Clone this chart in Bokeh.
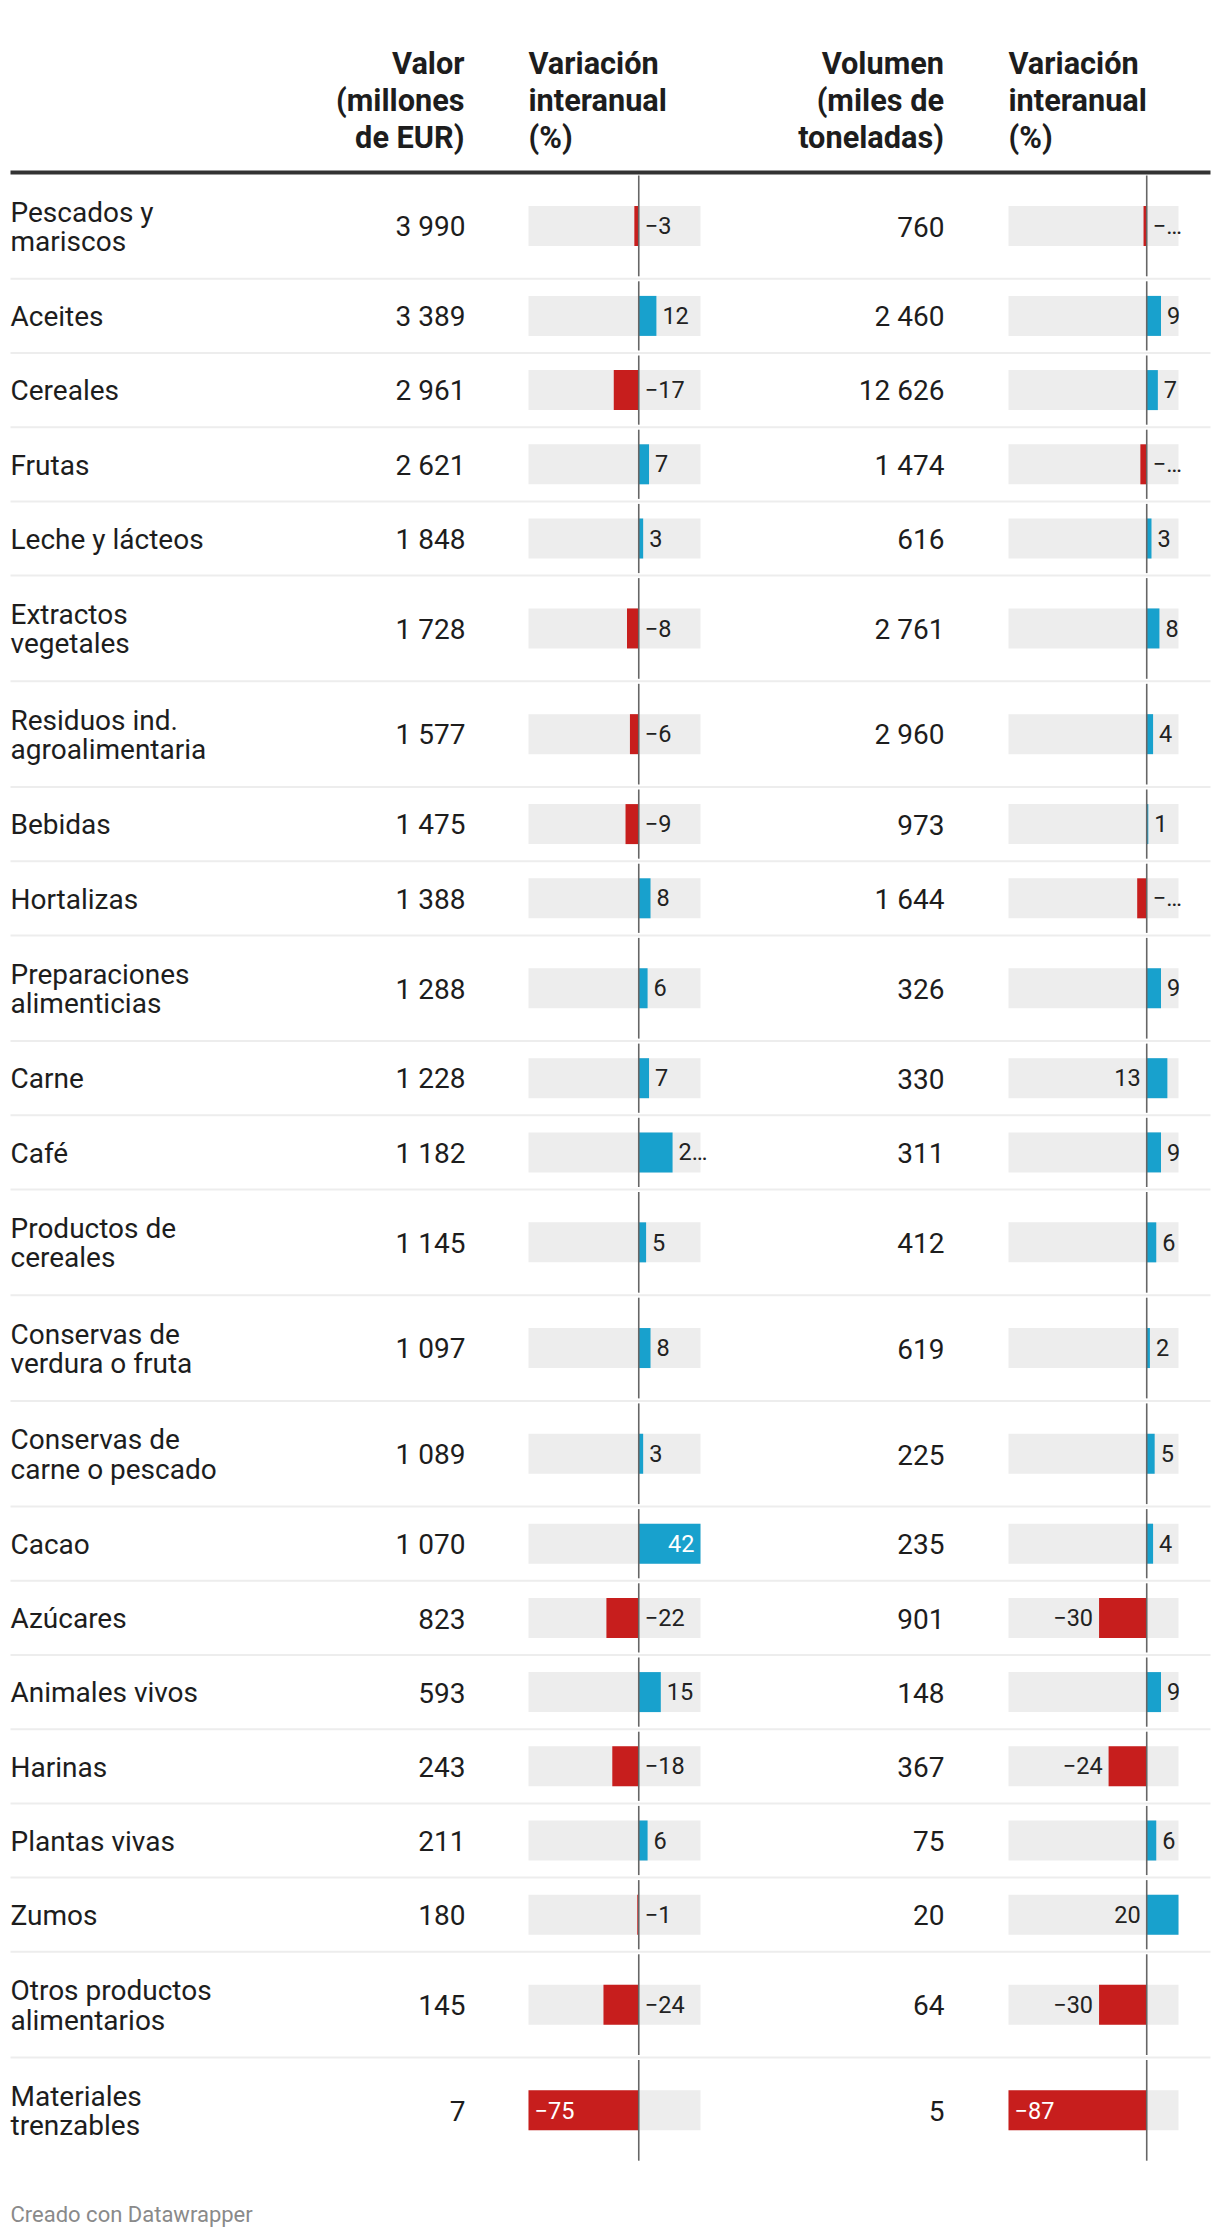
from bokeh.plotting import figure
from bokeh.models import Range1d
from bokeh.embed import file_html
from bokeh.resources import INLINE
from bokeh.core.properties import value

# ---------------- data ----------------
categorias = ["Pescados y\nmariscos", "Aceites", "Cereales", "Frutas", "Leche y lácteos",
              "Extractos\nvegetales", "Residuos ind.\nagroalimentaria", "Bebidas", "Hortalizas",
              "Preparaciones\nalimenticias", "Carne", "Café", "Productos de\ncereales",
              "Conservas de\nverdura o fruta", "Conservas de\ncarne o pescado", "Cacao", "Azúcares",
              "Animales vivos", "Harinas", "Plantas vivas", "Zumos", "Otros productos\nalimentarios",
              "Materiales\ntrenzables"]
valor = [3990, 3389, 2961, 2621, 1848, 1728, 1577, 1475, 1388, 1288, 1228, 1182, 1145, 1097,
         1089, 1070, 823, 593, 243, 211, 180, 145, 7]
var_valor = [-3, 12, -17, 7, 3, -8, -6, -9, 8, 6, 7, 23, 5, 8, 3, 42, -22, 15, -18, 6, -1, -24, -75]
volumen = [760, 2460, 12626, 1474, 616, 2761, 2960, 973, 1644, 326, 330, 311, 412, 619, 225, 235,
           901, 148, 367, 75, 20, 64, 5]
var_volumen = [-2, 9, 7, -4, 3, 8, 4, 1, -6, 9, 13, 9, 6, 2, 5, 4, -30, 9, -24, 6, 20, -30, -87]
encabezados = [["Valor", "(millones", "de EUR)"],
               ["Variación", "interanual", "(%)"],
               ["Volumen", "(miles de", "toneladas)"],
               ["Variación", "interanual", "(%)"]]
pie = "Creado con Datawrapper"

# ---------------- layout / style ----------------
W, H = 1220, 2238
FONT = "Roboto"
RED, BLUE, BG = "#c71e1d", "#18a1cd", "#ededed"
TXT = "#1d1d1d"
BODY_FS, HEAD_FS, LAB_FS, FOOT_FS = 28, 30.7, 23.5, 22
SHIFT = 0.4  # renderer baseline correction (fraction of font size)

p = figure(width=W, height=H, x_range=Range1d(0, W), y_range=Range1d(H, 0),
           x_axis_type=None, y_axis_type=None, output_backend="svg",
           toolbar_location=None, min_border=0)
p.outline_line_color = None
p.grid.visible = False
p.background_fill_color = "white"
p.border_fill_color = "white"

TABLE_L, TABLE_R = 10, 1210


def ty(baseline, fs):
    return baseline - SHIFT * fs


# header
head_x = [(464, "right"), (528, "left"), (943.5, "right"), (1008, "left")]
head_base = [75.7, 112.4, 149.1]
for (hx, al), lines in zip(head_x, encabezados):
    p.text(x=[hx] * len(lines), y=[ty(b, HEAD_FS) for b in head_base[:len(lines)]], text=lines,
           text_align=al, text_baseline="alphabetic", text_font=value(FONT),
           text_font_style="bold", text_font_size=f"{HEAD_FS}px", text_color=TXT)

p.segment(x0=[TABLE_L], x1=[TABLE_R], y0=[172], y1=[172], line_width=4,
          line_color="#333333")

# rows
tops, heights = [], []
y = 172.6
for lab in categorias:
    n = lab.count("\n") + 1
    h = 74.2 if n == 1 else 105.7
    tops.append(y)
    heights.append(h)
    y += h
centers = [t + h / 2 for t, h in zip(tops, heights)]
bottoms = [t + h for t, h in zip(tops, heights)]

# separators
sep_y = bottoms[:-1]
p.segment(x0=[TABLE_L] * len(sep_y), x1=[TABLE_R] * len(sep_y), y0=sep_y, y1=sep_y,
          line_width=2, line_color="#ededed")

BODY_DY = 2 + 0.711 * BODY_FS / 2
LAB_DY = 0.7 + 0.711 * LAB_FS / 2

# labels (categories)
lx, ly, lt = [], [], []
for lab, c in zip(categorias, centers):
    parts = lab.split("\n")
    base = c + BODY_DY
    offs = [0] if len(parts) == 1 else [-14.65, 14.65]
    for part, o in zip(parts, offs):
        lx.append(10)
        ly.append(ty(base + o, BODY_FS))
        lt.append(part)
p.text(x=lx, y=ly, text=lt, text_align="left", text_baseline="alphabetic",
       text_font=value(FONT), text_font_size=f"{BODY_FS}px", text_color=TXT)


def fmt_num(v):
    return f"{v:,}".replace(",", " ")


for vals, xr in ((valor, 465), (volumen, 944)):
    p.text(x=[xr] * len(vals), y=[ty(c + BODY_DY, BODY_FS) for c in centers],
           text=[fmt_num(v) for v in vals], text_align="right", text_baseline="alphabetic",
           text_font=value(FONT), text_font_size=f"{BODY_FS}px", text_color=TXT)


# bar columns
def fmt_pct(v):
    s = str(abs(v))
    return "\u2212" + s if v < 0 else s


def tw(s):
    return len(s) * 0.52 * LAB_FS


def place(v, vmin, vmax, k, flip):
    t = fmt_pct(v)
    w = tw(t)
    bar = abs(v) * k
    if bar >= 2.2 * w:
        return "inside", t
    room_after = (vmax - max(v, 0)) * k
    if room_after >= 1.35 * w:
        return "after", t
    if flip and (v > 0 or bar >= w):
        return "before", t
    return "after", t[0] + "\u2026"


cols = [(var_valor, (528, 700), False, "c1"), (var_volumen, (1008, 1178), True, "c2")]
for vals, (b0, b1), flip, name in cols:
    vmin, vmax = min(vals), max(vals)
    k = (b1 - b0) / (vmax - vmin)
    start = vmin - b0 / k
    p.extra_x_ranges[name] = Range1d(start, start + W / k)

for vals, (b0, b1), flip, name in cols:
    vmin, vmax = min(vals), max(vals)
    k = (b1 - b0) / (vmax - vmin)
    n = len(vals)
    p.hbar(y=centers, height=40, left=[vmin] * n, right=[vmax] * n, x_range_name=name,
           fill_color=BG, line_color=None)
    p.hbar(y=centers, height=40, left=[0] * n, right=vals, x_range_name=name,
           fill_color=[BLUE if v >= 0 else RED for v in vals], line_color=None)
    p.segment(x0=[0] * n, x1=[0] * n, y0=[t + 2.5 for t in tops],
              y1=[b - 2.5 for b in bottoms], x_range_name=name, line_width=1.6,
              line_color="#666666")
    groups = {}
    for v, c in zip(vals, centers):
        mode, t = place(v, vmin, vmax, k, flip)
        if mode == "after":
            key = ("left", 6, "#222222")
            xv = max(v, 0)
        elif mode == "before":
            key = ("right", -6, "#222222")
            xv = min(v, 0)
        else:
            key = ("left", 6, "white") if v < 0 else ("right", -6, "white")
            xv = v
        g = groups.setdefault(key, {"x": [], "y": [], "t": []})
        g["x"].append(xv)
        g["y"].append(ty(c + LAB_DY, LAB_FS))
        g["t"].append(t)
    for (al, off, col), g in groups.items():
        p.text(x=g["x"], y=g["y"], text=g["t"], x_range_name=name, x_offset=off,
               text_align=al, text_baseline="alphabetic", text_font=value(FONT),
               text_font_size=f"{LAB_FS}px", text_color=col)

# footer
p.text(x=[10], y=[ty(2222.7, FOOT_FS)], text=[pie], text_align="left",
       text_baseline="alphabetic", text_font=value(FONT), text_font_size=f"{FOOT_FS}px",
       text_color="#8a8a8a")

open("out.html", "w").write(file_html(p, INLINE))
